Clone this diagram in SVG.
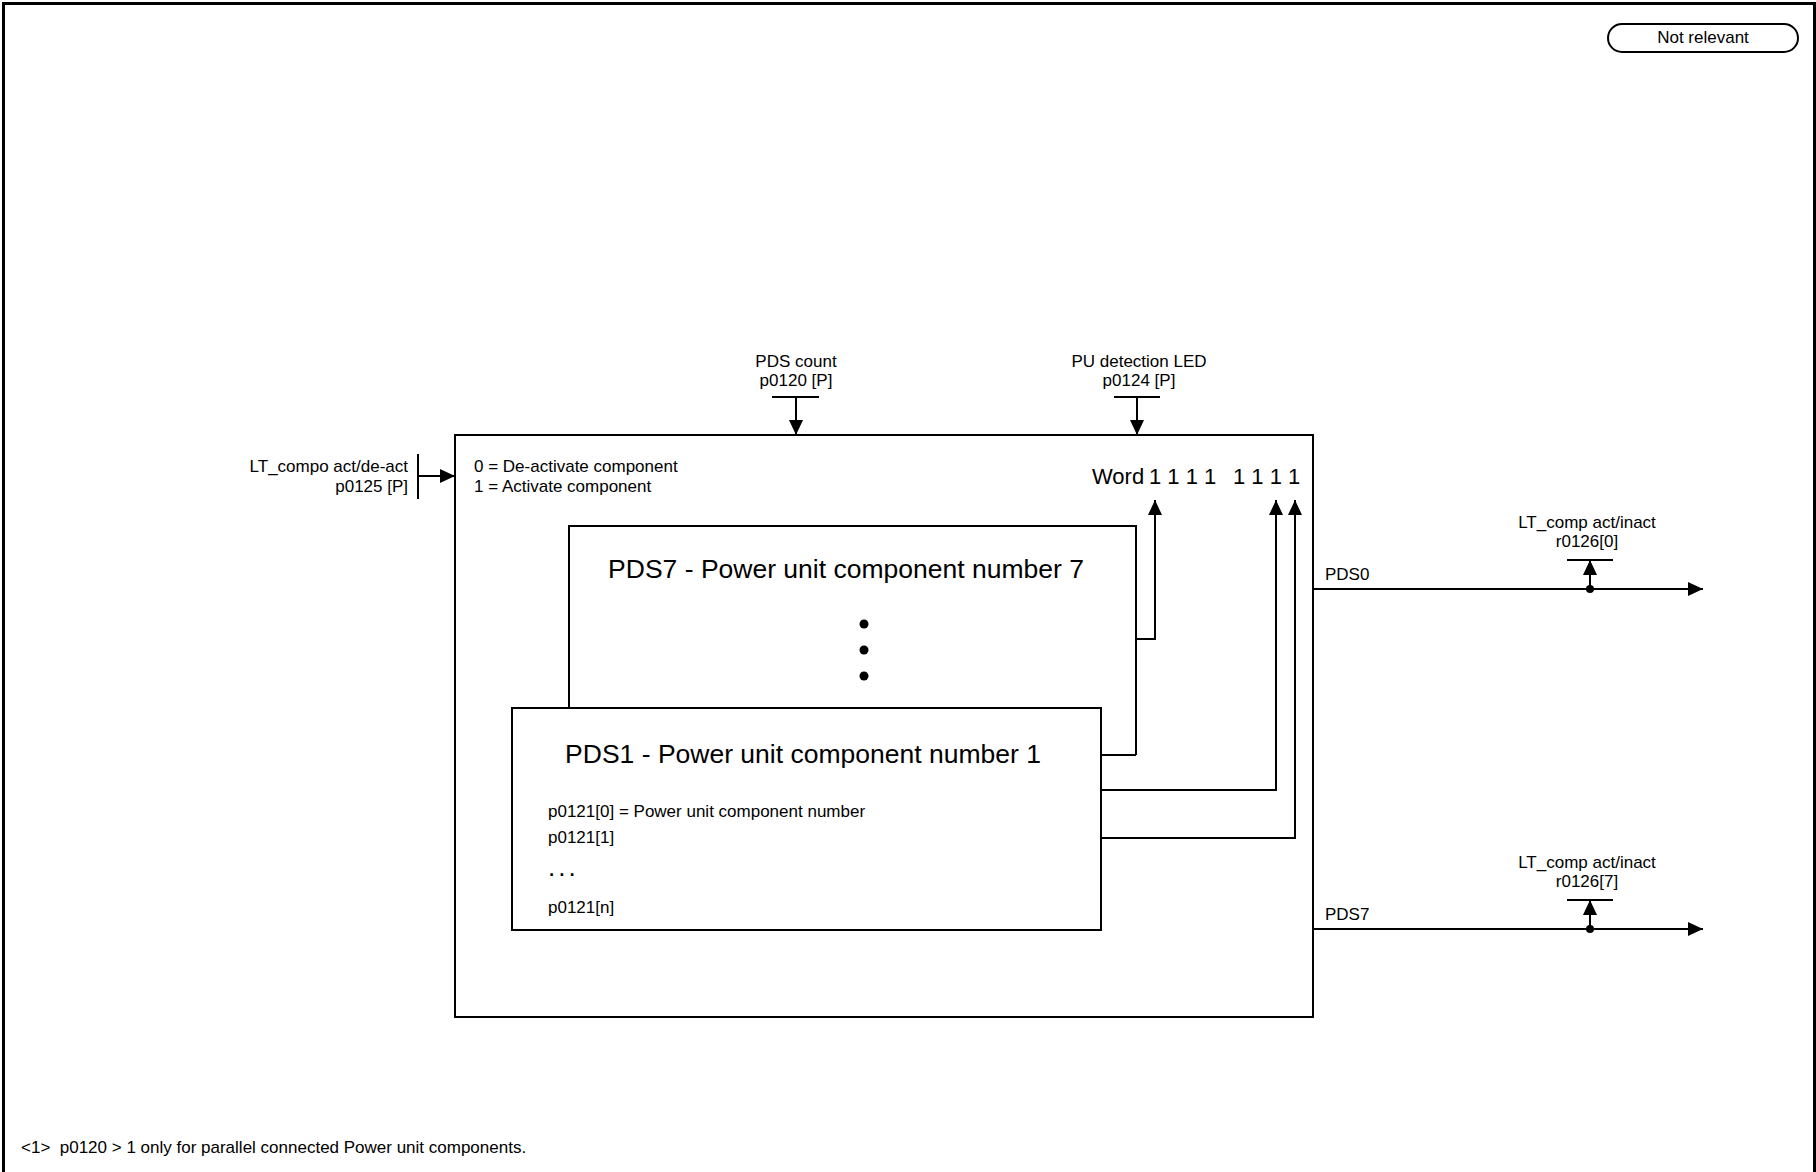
<svg xmlns="http://www.w3.org/2000/svg" width="1816" height="1172" viewBox="0 0 1816 1172">
<defs>
<marker id="ah" markerUnits="userSpaceOnUse" markerWidth="15" markerHeight="15" viewBox="0 0 15 15" refX="15" refY="7.5" orient="auto">
<path d="M0,0.5 L15,7.5 L0,14.5 Z" fill="#000"/>
</marker>
</defs>
<style>
text{font-family:"Liberation Sans",Arial,sans-serif;fill:#000}
.s{font-size:17px}
.m{font-size:22px}
.t{font-size:26.5px}
.box{fill:#fff;stroke:#000;stroke-width:2}
.ln{fill:none;stroke:#000;stroke-width:2}
.ar{fill:none;stroke:#000;stroke-width:2;marker-end:url(#ah)}
</style>
<rect x="0" y="0" width="1816" height="1172" fill="#fff"/>
<rect x="3.5" y="3.5" width="1811" height="1180" fill="none" stroke="#000" stroke-width="3"/>

<g id="not-relevant">
<rect x="1608" y="24" width="190" height="28" rx="14" ry="14" class="box"/>
<text x="1703" y="43" class="s" text-anchor="middle">Not relevant</text>
</g>

<g id="main-block">
<rect x="455" y="435" width="858" height="582" class="box"/>
<text x="474" y="472" class="s">0 = De-activate component</text>
<text x="474" y="492" class="s">1 = Activate component</text>
<text x="1092" y="484" class="m">Word <tspan x="1149">1 1 1 1</tspan><tspan x="1233">1 1 1 1</tspan></text>
</g>

<g id="pds7">
<path d="M569,708 L569,526 L1136,526 L1136,755" class="ln"/>
<text x="846" y="578" class="t" text-anchor="middle">PDS7 - Power unit component number 7</text>
<circle cx="864" cy="624" r="4.5" fill="#000"/>
<circle cx="864" cy="650" r="4.5" fill="#000"/>
<circle cx="864" cy="676" r="4.5" fill="#000"/>
</g>

<g id="pds1">
<rect x="512" y="708" width="589" height="222" class="box"/>
<text x="803" y="763" class="t" text-anchor="middle">PDS1 - Power unit component number 1</text>
<text x="548" y="817" class="s">p0121[0] = Power unit component number</text>
<text x="548" y="843" class="s">p0121[1]</text>
<text x="548" y="876" font-size="26px" letter-spacing="3">...</text>
<text x="548" y="913" class="s">p0121[n]</text>
</g>

<g id="in-p0120">
<text x="796" y="367" class="s" text-anchor="middle">PDS count</text>
<text x="796" y="386" class="s" text-anchor="middle">p0120 [P]</text>
<line x1="772" y1="397" x2="819" y2="397" class="ln"/>
</g>

<g id="in-p0124">
<text x="1139" y="367" class="s" text-anchor="middle">PU detection LED</text>
<text x="1139" y="386" class="s" text-anchor="middle">p0124 [P]</text>
<line x1="1114" y1="397" x2="1160" y2="397" class="ln"/>
</g>

<g id="in-p0125">
<text x="408" y="472" class="s" text-anchor="end">LT_compo act/de-act</text>
<text x="408" y="492" class="s" text-anchor="end">p0125 [P]</text>
<line x1="418" y1="454" x2="418" y2="499" class="ln"/>
</g>

<g id="out-r0126-0">
<text x="1325" y="580" class="s">PDS0</text>
<text x="1587" y="528" class="s" text-anchor="middle">LT_comp act/inact</text>
<text x="1587" y="547" class="s" text-anchor="middle">r0126[0]</text>
<line x1="1567" y1="560" x2="1613" y2="560" class="ln"/>
</g>

<g id="out-r0126-7">
<text x="1325" y="920" class="s">PDS7</text>
<text x="1587" y="868" class="s" text-anchor="middle">LT_comp act/inact</text>
<text x="1587" y="887" class="s" text-anchor="middle">r0126[7]</text>
<line x1="1567" y1="900" x2="1613" y2="900" class="ln"/>
</g>

<g id="footnote">
<text x="21" y="1153" class="s" xml:space="preserve">&lt;1&gt;  p0120 &gt; 1 only for parallel connected Power unit components.</text>
</g>

<g id="connectors">
<line x1="796" y1="397" x2="796" y2="435" class="ar"/>
<line x1="1137" y1="397" x2="1137" y2="435" class="ar"/>
<line x1="418" y1="476" x2="455" y2="476" class="ar"/>
<line x1="1101" y1="755" x2="1136" y2="755" class="ln"/>
<polyline points="1136,639 1155,639 1155,500" class="ar"/>
<polyline points="1101,790 1276,790 1276,500" class="ar"/>
<polyline points="1101,838 1295,838 1295,500" class="ar"/>
<line x1="1313" y1="589" x2="1703" y2="589" class="ar"/>
<line x1="1313" y1="929" x2="1703" y2="929" class="ar"/>
<line x1="1590" y1="589" x2="1590" y2="560" class="ar"/>
<line x1="1590" y1="929" x2="1590" y2="900" class="ar"/>
<circle cx="1590" cy="589" r="4" fill="#000"/>
<circle cx="1590" cy="929" r="4" fill="#000"/>
</g>
</svg>
